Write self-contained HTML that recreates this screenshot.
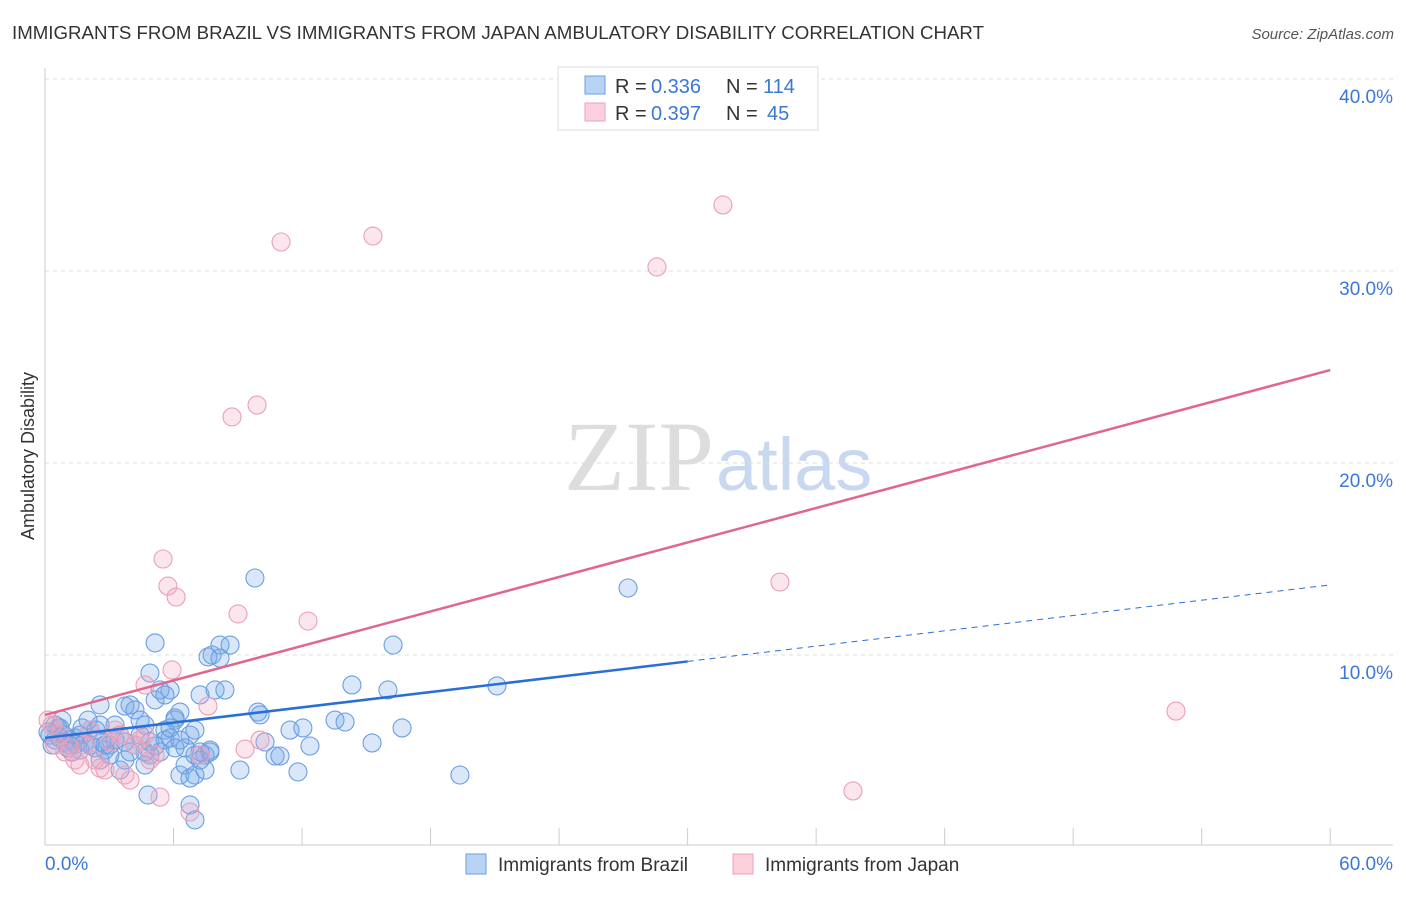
<!DOCTYPE html>
<html><head><meta charset="utf-8"><style>
body{margin:0;background:#fff;font-family:"Liberation Sans",sans-serif;}
</style></head><body>
<svg width="1406" height="892" xmlns="http://www.w3.org/2000/svg" style="font-family:'Liberation Sans',sans-serif">
<text x="12" y="39" font-size="18.6" fill="#333" textLength="972" lengthAdjust="spacingAndGlyphs">IMMIGRANTS FROM BRAZIL VS IMMIGRANTS FROM JAPAN AMBULATORY DISABILITY CORRELATION CHART</text>
<text x="1394" y="39" font-size="15" fill="#555" font-style="italic" text-anchor="end">Source: ZipAtlas.com</text>
<text x="714" y="490" font-size="100" fill="#ddd" text-anchor="end" font-family="Liberation Serif,serif">ZIP</text>
<text x="716" y="490" font-size="74" fill="#c8d8f0">atlas</text>
<g id="grid"></g>
<g id="axes"></g>
<g id="marks"></g>
<text transform="translate(34,456) rotate(-90)" font-size="18" fill="#333" text-anchor="middle">Ambulatory Disability</text>
<g>
<rect x="558" y="67" width="260" height="63" fill="#fff" stroke="#ddd"/>
<rect x="585" y="76" width="20" height="18" fill="#b8d4f5" stroke="#6a9fe0"/>
<rect x="585" y="103" width="20" height="18" fill="#fbd0dc" stroke="#eea0b8"/>
<text x="615" y="93" font-size="20" fill="#333">R =</text>
<text x="651" y="93" font-size="20" fill="#3a78d8">0.336</text>
<text x="726" y="93" font-size="20" fill="#333">N =</text>
<text x="763" y="93" font-size="20" fill="#3a78d8">114</text>
<text x="615" y="120" font-size="20" fill="#333">R =</text>
<text x="651" y="120" font-size="20" fill="#3a78d8">0.397</text>
<text x="726" y="120" font-size="20" fill="#333">N =</text>
<text x="767" y="120" font-size="20" fill="#3a78d8">45</text>
</g>
<g>
<rect x="466" y="854" width="20" height="20" fill="#b8d4f5" stroke="#6a9fe0"/>
<text x="498" y="871" font-size="19" fill="#333">Immigrants from Brazil</text>
<rect x="733" y="854" width="20" height="20" fill="#fbd0dc" stroke="#eea0b8"/>
<text x="765" y="871" font-size="19" fill="#333">Immigrants from Japan</text>
</g>
</svg>
<script>
const xTicks=[0,60];
const yTicks=[10,20,30,40];
const brazilPx=[[50,735],[55,740],[60,738],[65,742],[70,740],[75,738],[80,735],[85,742],[90,745],[95,748],[100,705],[105,750],[110,745],[115,740],[120,735],[125,742],[130,705],[135,745],[140,735],[145,752],[150,755],[155,700],[160,690],[165,730],[170,690],[175,720],[180,712],[185,748],[190,735],[195,730],[200,695],[205,755],[210,752],[215,690],[220,645],[225,690],[230,645],[155,643],[150,673],[165,695],[100,725],[110,755],[120,770],[145,765],[148,795],[180,775],[185,765],[190,778],[195,775],[205,770],[210,750],[190,805],[195,820],[240,770],[255,578],[258,712],[260,715],[265,742],[275,756],[280,756],[290,730],[298,772],[303,728],[310,746],[335,720],[345,722],[352,685],[372,743],[388,690],[393,645],[402,728],[460,775],[497,686],[628,588],[125,706],[135,710],[145,725],[160,752],[165,740],[170,728],[175,718],[60,728],[70,745],[80,750],[90,730],[100,760],[105,745],[115,725],[125,760],[130,752],[140,720],[150,742],[155,746],[170,738],[175,748],[180,740],[208,657],[212,655],[220,658],[200,752],[195,755],[200,760],[55,725],[48,732],[52,745],[58,728],[62,720],[64,735],[68,748],[72,752],[76,744],[82,728],[88,720],[96,730],[102,742]];
const japanPx=[[48,720],[52,725],[55,745],[60,735],[65,752],[70,748],[75,760],[80,765],[85,745],[90,730],[95,760],[100,768],[105,770],[110,742],[115,730],[120,735],[125,775],[130,780],[135,745],[140,740],[145,735],[150,760],[155,755],[145,685],[160,797],[163,559],[168,586],[176,597],[172,670],[190,812],[200,755],[208,706],[232,417],[238,614],[245,749],[257,405],[260,740],[281,242],[308,621],[373,236],[657,267],[723,205],[780,582],[853,791],[1176,711]];
const brazilX=brazilPx.map(p=>+((p[0]-45)/21.42).toFixed(2));
const brazilY=brazilPx.map(p=>+((847-p[1])/19.2).toFixed(2));
const japanX=japanPx.map(p=>+((p[0]-45)/21.42).toFixed(2));
const japanY=japanPx.map(p=>+((847-p[1])/19.2).toFixed(2));
const brazilTrend=[5.68,13.65];
const japanTrend=[6.88,24.84];
const brazilSolidEnd=30;

const X=v=>45+v*21.42, Y=v=>847-v*19.2;
const NS="http://www.w3.org/2000/svg";
function mk(t,a,p){const e=document.createElementNS(NS,t);for(const k in a)e.setAttribute(k,a[k]);p.appendChild(e);return e;}
const grid=document.getElementById('grid'),axes=document.getElementById('axes'),marks=document.getElementById('marks');
yTicks.forEach(t=>{
 const l=mk('line',{x1:45,x2:1393,y1:Y(t),y2:Y(t),stroke:'#ddd','stroke-dasharray':'4,4'},grid);
 
 
 const tx=mk('text',{x:1393,y:Y(t)+24,'font-size':19,fill:'#3a78d8','text-anchor':'end'},axes);
 tx.textContent=t.toFixed(1)+'%';
 
 
});
const ax=mk('line',{x1:45,x2:1393,y1:845,y2:845,stroke:'#ccc'},axes);


const ay=mk('line',{x1:45,x2:45,y1:68,y2:845,stroke:'#ccc'},axes);


for(let i=1;i<=10;i++){const t=mk('line',{x1:X(i*6),x2:X(i*6),y1:828,y2:845,stroke:'#ccc'},axes);
 
 }
xTicks.forEach((t,i)=>{const tx=mk('text',{x:i?1393:45,y:870,'font-size':19,fill:'#3a78d8','text-anchor':i?'end':'start'},axes);
 tx.textContent=t.toFixed(1)+'%';
 
 });
function pts(xs,ys,fill,stroke,name){xs.forEach((x,i)=>{const c=mk('circle',{cx:X(x),cy:Y(ys[i]),r:9,fill:fill,stroke:stroke,'stroke-width':1.1},marks);
 
 });}
pts(brazilX,brazilY,'rgba(120,170,235,0.28)','#6a9fe0','brazil-point');
pts(japanX,japanY,'rgba(245,165,190,0.28)','#ec9fb7','japan-point');
const bAt=x=>brazilTrend[0]+(brazilTrend[1]-brazilTrend[0])*x/60;
const l1=mk('line',{x1:X(0),y1:Y(bAt(0)),x2:X(brazilSolidEnd),y2:Y(bAt(brazilSolidEnd)),stroke:'#2a6fd6','stroke-width':2.5},marks);


const l2=mk('line',{x1:X(brazilSolidEnd),y1:Y(bAt(brazilSolidEnd)),x2:X(60),y2:Y(bAt(60)),stroke:'#2a6fd6','stroke-width':1,'stroke-dasharray':'6,5'},marks);


const l3=mk('line',{x1:X(0),y1:Y(japanTrend[0]),x2:X(60),y2:Y(japanTrend[1]),stroke:'#e06690','stroke-width':2.5},marks);


</script>
</body></html>
